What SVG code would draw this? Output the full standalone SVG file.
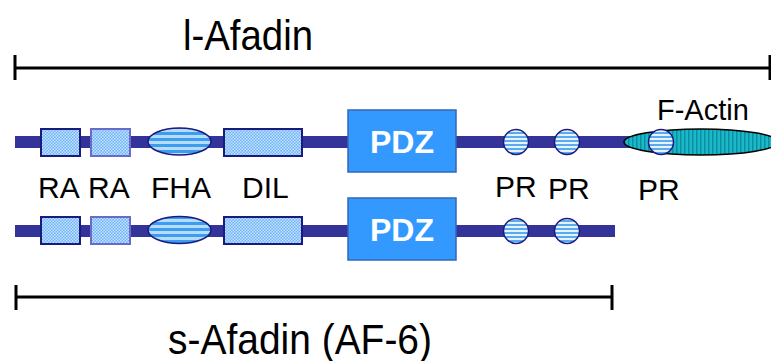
<svg xmlns="http://www.w3.org/2000/svg" width="771" height="361" viewBox="0 0 771 361">
<defs>
<pattern id="chk" patternUnits="userSpaceOnUse" width="3" height="3">
<rect width="3" height="3" fill="#6fb4f5"/>
<rect width="1.5" height="1.5" fill="#c4e2ff"/>
<rect x="1.5" y="1.5" width="1.5" height="1.5" fill="#c4e2ff"/>
</pattern>
<pattern id="hs" patternUnits="userSpaceOnUse" width="6" height="6">
<rect width="6" height="6" fill="#3d9cf0"/>
<rect y="3" width="6" height="3" fill="#b5dcf8"/>
</pattern>
<pattern id="hs2" patternUnits="userSpaceOnUse" width="4" height="4">
<rect width="4" height="4" fill="#5aaaf0"/>
<rect y="2" width="4" height="2" fill="#e6f3ff"/>
</pattern>
<pattern id="vs" patternUnits="userSpaceOnUse" width="4" height="4">
<rect width="4" height="4" fill="#1ab8c8"/>
<rect width="1.5" height="4" fill="#0a8fa0"/>
</pattern>
<style>
.t{font-family:"Liberation Sans",Arial,sans-serif;fill:#000}
.big{font-size:42px}
.lbl{font-size:30px}
.pdz{font-family:"Liberation Sans",Arial,sans-serif;font-weight:bold;font-size:32px;fill:#fff}
.bar{fill:#333399}
.box{fill:url(#chk);stroke:#1a1a80;stroke-width:2}
.box2{fill:url(#chk);stroke:#6a6ac8;stroke-width:2}
.fha{fill:url(#hs);stroke:#1a1a80;stroke-width:1.5}
.pr{fill:url(#hs2);stroke:#1a1a80;stroke-width:1.5}
.pd{fill:#3399ff;stroke:#3366bb;stroke-width:1.5}
.br{stroke:#000;stroke-width:3;fill:none}
</style>
</defs>
<g id="l-afadin-scale">
<path class="br" d="M15 68H771M15 55V80M770 55V80"/>
<text class="t big" x="183" y="50" textLength="130" lengthAdjust="spacingAndGlyphs">l-Afadin</text>
</g>
<g id="s-afadin-scale">
<path class="br" d="M16 297H612M16 285V310M612 285V310"/>
<text class="t big" x="168" y="354" textLength="264" lengthAdjust="spacingAndGlyphs">s-Afadin (AF-6)</text>
</g>
<g id="l-afadin">
<rect class="bar" x="15" y="136" width="625" height="12"/>
<rect class="box" x="41" y="129" width="39" height="27"/>
<rect class="box2" x="91" y="129" width="39" height="27"/>
<ellipse class="fha" cx="179.5" cy="141.5" rx="31.5" ry="13.5"/>
<rect class="box" x="224" y="129" width="78" height="27"/>
<rect class="pd" x="348" y="110" width="108" height="62"/>
<text class="pdz" x="402" y="153" text-anchor="middle">PDZ</text>
<circle class="pr" cx="516" cy="142" r="12.5"/>
<circle class="pr" cx="567" cy="142" r="12.5"/>
<ellipse cx="701" cy="142" rx="77" ry="13" fill="url(#vs)" stroke="#000" stroke-width="1.5"/>
<circle class="pr" cx="661" cy="142" r="12.5"/>
<text class="t" x="657" y="120" font-size="29">F-Actin</text>
</g>
<g id="labels">
<text class="t lbl" x="38" y="198">RA</text>
<text class="t lbl" x="88" y="198">RA</text>
<text class="t lbl" x="151" y="198">FHA</text>
<text class="t lbl" x="242" y="198">DIL</text>
<text class="t lbl" x="495" y="197">PR</text>
<text class="t lbl" x="548" y="199">PR</text>
<text class="t lbl" x="638" y="200">PR</text>
</g>
<g id="s-afadin">
<rect class="bar" x="15" y="225" width="600" height="12"/>
<rect class="box" x="41" y="217" width="39" height="27"/>
<rect class="box2" x="91" y="217" width="39" height="27"/>
<ellipse class="fha" cx="179.5" cy="230" rx="31.5" ry="13.5"/>
<rect class="box" x="224" y="217" width="78" height="27"/>
<rect class="pd" x="348" y="198" width="108" height="62"/>
<text class="pdz" x="402" y="241" text-anchor="middle">PDZ</text>
<circle class="pr" cx="516" cy="231" r="12.5"/>
<circle class="pr" cx="567" cy="231" r="12.5"/>
</g>
</svg>
